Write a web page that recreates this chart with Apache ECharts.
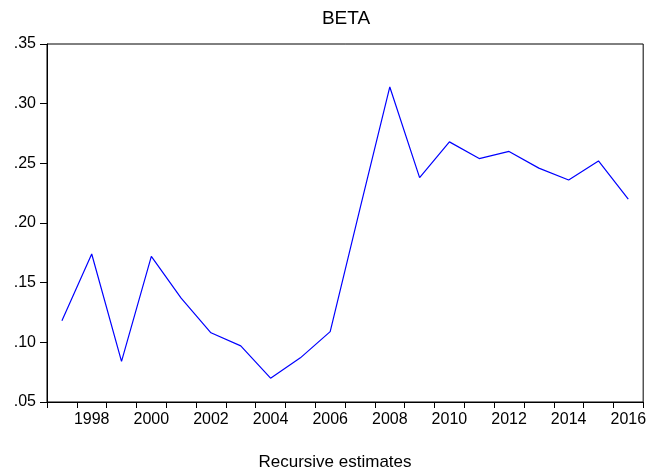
<!DOCTYPE html>
<html>
<head>
<meta charset="utf-8">
<script src="https://cdn.jsdelivr.net/npm/echarts@6/dist/echarts.min.js"></script>
<style>
html,body{margin:0;padding:0;background:#fff;}
#main{width:649px;height:471px;}
</style>
</head>
<body>
<div id="main"></div>
<script>
const chartTitle = 'BETA';
const xAxisTitle = 'Recursive estimates';
const years = ['1997','1998','1999','2000','2001','2002','2003','2004','2005','2006',
               '2007','2008','2009','2010','2011','2012','2013','2014','2015','2016'];
const betaValues = [0.118, 0.174, 0.084, 0.172, 0.137, 0.108, 0.097, 0.070, 0.087, 0.109,
                    0.212, 0.314, 0.238, 0.268, 0.254, 0.260, 0.246, 0.236, 0.252, 0.220];
const yMin = 0.05, yMax = 0.35, yStep = 0.05;

const FONT = '"Liberation Sans", Arial, sans-serif';
const chart = echarts.init(document.getElementById('main'), null, {renderer: 'canvas'});
chart.setOption({
  animation: false,
  backgroundColor: '#ffffff',
  grid: {left: 47, right: 3, top: 44, bottom: 69, show: true, borderColor: '#000', borderWidth: 1, backgroundColor: 'transparent'},
  graphic: [
    {type: 'text', x: 346, y: 19, style: {text: chartTitle, font: '19px ' + FONT, fill: '#000', align: 'center', verticalAlign: 'middle'}},
    {type: 'text', x: 335, y: 462, style: {text: xAxisTitle, font: '17px ' + FONT, fill: '#000', align: 'center', verticalAlign: 'middle'}}
  ],
  xAxis: {
    type: 'category',
    data: years,
    boundaryGap: true,
    axisLine: {show: true, lineStyle: {color: '#000', width: 1}},
    axisTick: {show: true, interval: 0, length: 6, lineStyle: {color: '#000'}},
    axisLabel: {interval: function (i) { return i % 2 === 1; }, color: '#000', fontSize: 16, fontFamily: FONT, margin: 10},
    splitLine: {show: false}
  },
  yAxis: {
    type: 'value',
    min: yMin, max: yMax, interval: yStep,
    axisLine: {show: true, lineStyle: {color: '#000', width: 1}},
    axisTick: {show: true, length: 7, lineStyle: {color: '#000'}},
    axisLabel: {color: '#000', fontSize: 16, fontFamily: FONT, margin: 11,
      formatter: function (v) { return v.toFixed(2).replace(/^0/, ''); }},
    splitLine: {show: false}
  },
  series: [{
    type: 'line',
    data: betaValues,
    symbol: 'none',
    lineStyle: {color: '#0000ff', width: 1.2},
    itemStyle: {color: '#0000ff'}
  }]
});
</script>
</body>
</html>
